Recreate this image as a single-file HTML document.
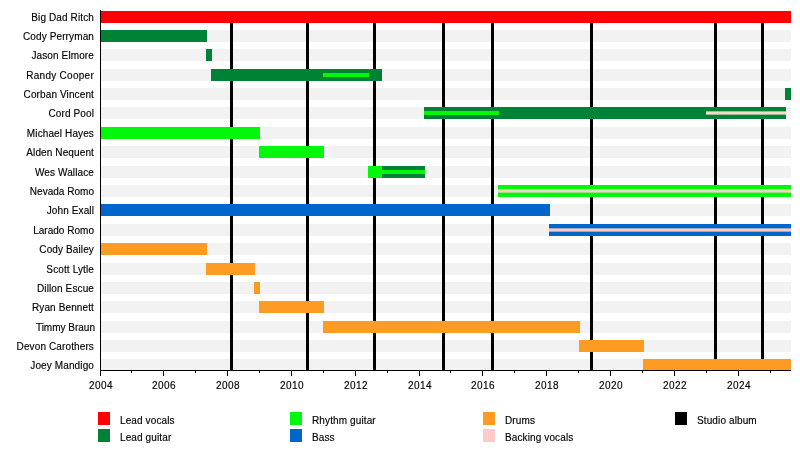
<!DOCTYPE html><html><head><meta charset="utf-8"><style>
html,body{margin:0;padding:0;background:#fff;}
body{width:800px;height:450px;position:relative;overflow:hidden;font-family:"Liberation Sans",Arial,sans-serif;font-size:10px;color:#000;}
div{position:absolute;}
.l,.y,.lt{will-change:transform;-webkit-text-stroke:0.15px #000;}
.s{background:#f2f2f2;}
.l{right:706px;letter-spacing:0.12px;width:100px;text-align:right;line-height:12px;height:12px;white-space:nowrap;}
.al{background:#000;width:3px;top:11px;height:359px;}
.y{width:40px;text-align:center;top:380px;letter-spacing:0.4px;line-height:12px;}
.lg{width:12px;height:13px;}
.lt{line-height:12px;white-space:nowrap;letter-spacing:0.12px;}
</style></head><body>
<div class="l" style="top:12px;letter-spacing:0.12px;right:706px">Big Dad Ritch</div>
<div class="l" style="top:31px;letter-spacing:0.12px;right:706px">Cody Perryman</div>
<div class="l" style="top:50px;letter-spacing:0.12px;right:706px">Jason Elmore</div>
<div class="l" style="top:70px;letter-spacing:0.27px;right:706px">Randy Cooper</div>
<div class="l" style="top:89px;letter-spacing:0.12px;right:706px">Corban Vincent</div>
<div class="l" style="top:108px;letter-spacing:0.12px;right:706px">Cord Pool</div>
<div class="l" style="top:128px;letter-spacing:0.12px;right:706px">Michael Hayes</div>
<div class="l" style="top:147px;letter-spacing:0.12px;right:706px">Alden Nequent</div>
<div class="l" style="top:167px;letter-spacing:0.12px;right:706px">Wes Wallace</div>
<div class="l" style="top:186px;letter-spacing:0.02px;right:706px">Nevada Romo</div>
<div class="l" style="top:205px;letter-spacing:0.12px;right:706px">John Exall</div>
<div class="l" style="top:225px;letter-spacing:0.02px;right:706px">Larado Romo</div>
<div class="l" style="top:244px;letter-spacing:0.12px;right:706px">Cody Bailey</div>
<div class="l" style="top:264px;letter-spacing:0.12px;right:706px">Scott Lytle</div>
<div class="l" style="top:283px;letter-spacing:0.12px;right:706px">Dillon Escue</div>
<div class="l" style="top:302px;letter-spacing:0.12px;right:706px">Ryan Bennett</div>
<div class="l" style="top:322px;letter-spacing:0.00px;right:705px">Timmy Braun</div>
<div class="l" style="top:341px;letter-spacing:0.12px;right:706px">Devon Carothers</div>
<div class="l" style="top:360px;letter-spacing:0.12px;right:706px">Joey Mandigo</div>
<div class="s" style="left:101px;width:690px;top:11px;height:12px"></div>
<div class="s" style="left:101px;width:690px;top:30px;height:12px"></div>
<div class="s" style="left:101px;width:690px;top:49px;height:12px"></div>
<div class="s" style="left:101px;width:690px;top:69px;height:12px"></div>
<div class="s" style="left:101px;width:690px;top:88px;height:12px"></div>
<div class="s" style="left:101px;width:690px;top:107px;height:12px"></div>
<div class="s" style="left:101px;width:690px;top:127px;height:12px"></div>
<div class="s" style="left:101px;width:690px;top:146px;height:12px"></div>
<div class="s" style="left:101px;width:690px;top:166px;height:12px"></div>
<div class="s" style="left:101px;width:690px;top:185px;height:12px"></div>
<div class="s" style="left:101px;width:690px;top:204px;height:12px"></div>
<div class="s" style="left:101px;width:690px;top:224px;height:12px"></div>
<div class="s" style="left:101px;width:690px;top:243px;height:12px"></div>
<div class="s" style="left:101px;width:690px;top:263px;height:12px"></div>
<div class="s" style="left:101px;width:690px;top:282px;height:12px"></div>
<div class="s" style="left:101px;width:690px;top:301px;height:12px"></div>
<div class="s" style="left:101px;width:690px;top:321px;height:12px"></div>
<div class="s" style="left:101px;width:690px;top:340px;height:12px"></div>
<div class="s" style="left:101px;width:690px;top:359px;height:12px"></div>
<div class="al" style="left:230px"></div>
<div class="al" style="left:306px"></div>
<div class="al" style="left:373px"></div>
<div class="al" style="left:442px"></div>
<div class="al" style="left:491px"></div>
<div class="al" style="left:590px"></div>
<div class="al" style="left:714px"></div>
<div class="al" style="left:761px"></div>
<div style="left:100px;width:691px;top:11px;height:12px;background:#ff0000"></div>
<div style="left:100px;width:107px;top:30px;height:12px;background:#008236"></div>
<div style="left:206px;width:6px;top:49px;height:12px;background:#008236"></div>
<div style="left:211px;width:171px;top:69px;height:12px;background:#008236"></div>
<div style="left:323px;width:46px;top:73px;height:4px;background:#02f80a"></div>
<div style="left:785px;width:6px;top:88px;height:12px;background:#008236"></div>
<div style="left:424px;width:362px;top:107px;height:12px;background:#008236"></div>
<div style="left:424px;width:75px;top:111px;height:4px;background:#02f80a"></div>
<div style="left:706px;width:80px;top:111px;height:4px;background:linear-gradient(#9cbc94 0 1px,#f0dcc8 1px 3px,#9cbc94 3px 4px)"></div>
<div style="left:100px;width:160px;top:127px;height:12px;background:#02f80a"></div>
<div style="left:259px;width:65px;top:146px;height:12px;background:#02f80a"></div>
<div style="left:368px;width:14px;top:166px;height:12px;background:#02f80a"></div>
<div style="left:382px;width:43px;top:166px;height:12px;background:#008236"></div>
<div style="left:382px;width:43px;top:170px;height:4px;background:#02f80a"></div>
<div style="left:498px;width:293px;top:185px;height:12px;background:#02f80a"></div>
<div style="left:498px;width:293px;top:189px;height:4px;background:linear-gradient(#98e37d 0 1px,#ead8bc 1px 3px,#98e37d 3px 4px)"></div>
<div style="left:100px;width:450px;top:204px;height:12px;background:#0066cc"></div>
<div style="left:549px;width:242px;top:224px;height:12px;background:#0066cc"></div>
<div style="left:549px;width:242px;top:228px;height:4px;background:linear-gradient(#a3a7c6 0 1px,#fccac4 1px 3px,#a3a7c6 3px 4px)"></div>
<div style="left:100px;width:107px;top:243px;height:12px;background:#fe9b22"></div>
<div style="left:206px;width:49px;top:263px;height:12px;background:#fe9b22"></div>
<div style="left:254px;width:6px;top:282px;height:12px;background:#fe9b22"></div>
<div style="left:259px;width:65px;top:301px;height:12px;background:#fe9b22"></div>
<div style="left:323px;width:257px;top:321px;height:12px;background:#fe9b22"></div>
<div style="left:579px;width:65px;top:340px;height:12px;background:#fe9b22"></div>
<div style="left:643px;width:148px;top:359px;height:12px;background:#fe9b22"></div>
<div style="left:100px;top:10px;width:1px;height:366px;background:#000"></div>
<div style="left:100px;top:370px;width:691px;height:1px;background:#000"></div>
<div style="left:131px;top:370px;width:1px;height:3px;background:#000"></div>
<div style="left:163px;top:370px;width:1px;height:6px;background:#000"></div>
<div style="left:195px;top:370px;width:1px;height:3px;background:#000"></div>
<div style="left:227px;top:370px;width:1px;height:6px;background:#000"></div>
<div style="left:259px;top:370px;width:1px;height:3px;background:#000"></div>
<div style="left:291px;top:370px;width:1px;height:6px;background:#000"></div>
<div style="left:323px;top:370px;width:1px;height:3px;background:#000"></div>
<div style="left:355px;top:370px;width:1px;height:6px;background:#000"></div>
<div style="left:387px;top:370px;width:1px;height:3px;background:#000"></div>
<div style="left:419px;top:370px;width:1px;height:6px;background:#000"></div>
<div style="left:450px;top:370px;width:1px;height:3px;background:#000"></div>
<div style="left:482px;top:370px;width:1px;height:6px;background:#000"></div>
<div style="left:514px;top:370px;width:1px;height:3px;background:#000"></div>
<div style="left:546px;top:370px;width:1px;height:6px;background:#000"></div>
<div style="left:578px;top:370px;width:1px;height:3px;background:#000"></div>
<div style="left:610px;top:370px;width:1px;height:6px;background:#000"></div>
<div style="left:642px;top:370px;width:1px;height:3px;background:#000"></div>
<div style="left:674px;top:370px;width:1px;height:6px;background:#000"></div>
<div style="left:706px;top:370px;width:1px;height:3px;background:#000"></div>
<div style="left:738px;top:370px;width:1px;height:6px;background:#000"></div>
<div style="left:770px;top:370px;width:1px;height:3px;background:#000"></div>
<div class="y" style="left:80.7px">2004</div>
<div class="y" style="left:143.7px">2006</div>
<div class="y" style="left:207.7px">2008</div>
<div class="y" style="left:271.7px">2010</div>
<div class="y" style="left:335.7px">2012</div>
<div class="y" style="left:399.7px">2014</div>
<div class="y" style="left:462.7px">2016</div>
<div class="y" style="left:526.7px">2018</div>
<div class="y" style="left:590.7px">2020</div>
<div class="y" style="left:654.7px">2022</div>
<div class="y" style="left:718.7px">2024</div>
<div class="lg" style="left:98px;top:412px;background:#ff0000"></div>
<div class="lt" style="left:120px;top:415px">Lead vocals</div>
<div class="lg" style="left:98px;top:429px;background:#008236"></div>
<div class="lt" style="left:120px;top:432px">Lead guitar</div>
<div class="lg" style="left:290px;top:412px;background:#02f80a"></div>
<div class="lt" style="left:312px;top:415px">Rhythm guitar</div>
<div class="lg" style="left:290px;top:429px;background:#0066cc"></div>
<div class="lt" style="left:312px;top:432px">Bass</div>
<div class="lg" style="left:483px;top:412px;background:#fe9b22"></div>
<div class="lt" style="left:505px;top:415px">Drums</div>
<div class="lg" style="left:483px;top:429px;background:#ffcaca"></div>
<div class="lt" style="left:505px;top:432px">Backing vocals</div>
<div class="lg" style="left:675px;top:412px;background:#000000"></div>
<div class="lt" style="left:697px;top:415px">Studio album</div>
</body></html>
